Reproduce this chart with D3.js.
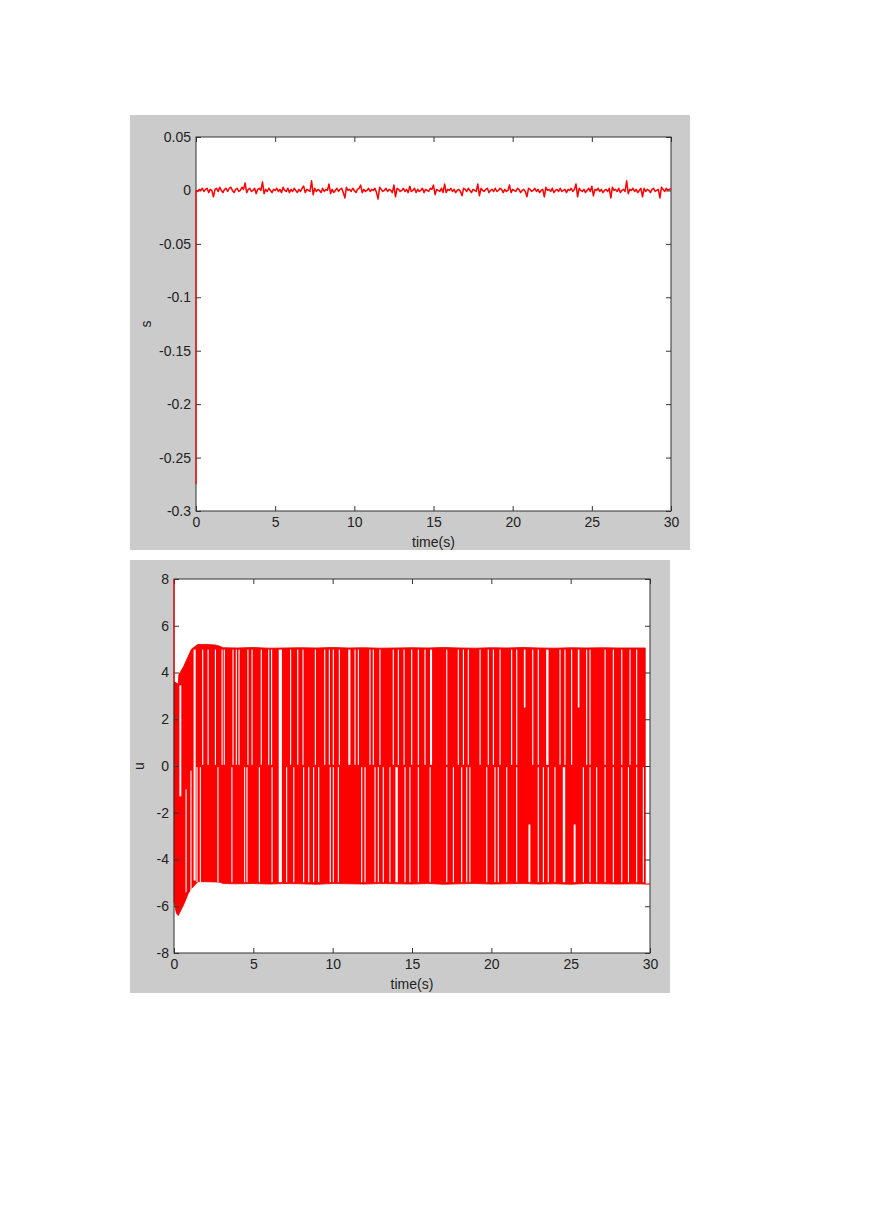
<!DOCTYPE html>
<html><head><meta charset="utf-8">
<script src="https://cdn.jsdelivr.net/npm/d3@7"></script>
<style>
html,body{margin:0;padding:0;background:#fff;}
svg{display:block;}
text{font-family:Arial,"Liberation Sans",Helvetica,sans-serif;}
</style></head>
<body>
<svg id="c" width="869" height="1228"></svg>
<script>
// ---------- DATA ----------
// s(t): initial jump at t=0, then samples every 0.1 s from t=0 to t=30, values in thousandths
const sStart = [[0, -0.275], [0, 0]];
const sStep = 0.1;
const sMilli = [
 0,-1,1,0,2,-1,1,2,-2,1,
 0,-6,1,2,-1,3,0,-2,1,2,
 -1,2,3,0,-2,1,2,-1,0,3,
 1,7,-2,1,2,-1,0,2,-3,1,
 2,0,8,-3,1,-1,2,0,-2,1,
 0,2,-1,1,-2,3,0,-1,2,-2,
 1,-1,2,0,-2,1,-1,2,4,-2,
 1,0,-1,9,-4,2,-1,1,0,-2,
 2,-1,1,0,6,-3,1,-2,0,2,
 -1,1,2,-2,-7,3,0,1,-1,2,
 0,-2,1,2,5,-2,1,-1,0,2,
 -1,1,0,2,-2,-8,3,1,-1,0,
 2,-1,1,0,-2,5,-6,2,1,-1,
 0,2,-1,1,-2,4,-1,0,2,-2,
 1,-1,0,2,-2,1,0,-1,2,1,
 5,-4,1,0,-1,2,-2,6,-2,1,
 0,2,-1,1,-2,0,1,-1,-5,2,
 1,-1,2,0,-2,1,0,-1,6,-5,
 2,0,-1,1,2,-2,0,1,-1,2,
 -1,0,2,1,-2,1,-1,0,5,-2,
 1,0,-1,2,1,-2,0,1,-1,-6,
 2,1,-1,0,2,-1,1,-2,0,1,
 -6,3,0,1,-1,2,-2,0,1,-1,
 2,-1,0,1,-2,1,0,2,-1,1,
 6,-6,2,0,-1,1,-2,0,2,-1,
 4,-5,1,0,2,-1,1,-2,0,1,
 -1,2,-7,3,0,1,-1,2,-2,0,
 1,-1,9,-3,1,0,2,-1,1,-2,
 0,2,-6,2,-1,1,0,-2,1,2,
 -1,0,1,-7,3,1,-1,2,0,1,
 2
];
const sTicks = [0.05, 0, -0.05, -0.1, -0.15, -0.2, -0.25, -0.3];
const sTickLabels = ["0.05","0","-0.05","-0.1","-0.15","-0.2","-0.25","-0.3"];

// u(t): chattering control, described by its envelope and the white gaps seen in it
const uStart = [[0, 8], [0, 3.6]];
const uEnvT   = [0, 0.15, 0.27, 0.3, 0.6, 0.9, 1.1, 1.3, 1.5, 2.0, 2.6, 2.9, 3.1, 4, 5, 6, 7, 8, 9, 10, 11, 12, 13, 14, 15, 16, 17, 18, 19, 20, 21, 22, 23, 24, 25, 26, 27, 28, 29, 29.7];
const uUpper  = [3.6, 3.55, 3.5, 3.9, 4.25, 4.7, 5.0, 5.1, 5.2, 5.2, 5.18, 5.12, 5.06, 5.05, 5.07, 5.04, 5.05, 5.06, 5.05, 5.07, 5.05, 5.06, 5.04, 5.05, 5.06, 5.05, 5.07, 5.05, 5.04, 5.06, 5.05, 5.07, 5.05, 5.04, 5.06, 5.05, 5.06, 5.05, 5.05, 5.05];
const uLower  = [-5.8, -6.3, -6.4, -6.35, -5.95, -5.45, -5.25, -5.1, -4.95, -4.95, -4.96, -4.97, -5.03, -5.04, -5.03, -5.05, -5.03, -5.04, -5.06, -5.03, -5.04, -5.05, -5.03, -5.04, -5.05, -5.03, -5.06, -5.04, -5.03, -5.05, -5.04, -5.03, -5.05, -5.04, -5.06, -5.03, -5.04, -5.05, -5.04, -5.05];
const uTail = [[29.7, -5.05], [30, -5.05]];
// times of narrow white gaps in the upper half (0..+5) and lower half (-5..0)
const gapsUp = [1.81, 2.15, 2.61, 3.03, 3.17, 3.72, 3.93, 4.10, 4.66, 4.92, 5.50, 5.97, 6.15, 7.35, 7.80, 8.13, 8.91, 9.50, 9.79, 10.04, 10.42, 11.41, 11.62, 12.35, 12.56, 12.98, 13.82, 14.14, 14.50, 14.98, 15.40, 15.82, 17.19, 17.92, 18.24, 18.55, 19.29, 19.81, 20.13, 20.55, 21.28, 21.60, 22.61, 22.96, 24.33, 24.64, 25.06, 26.01, 26.22, 27.17, 27.69, 28.22, 28.74, 29.16];
const gapsLow = [1.45, 1.66, 2.77, 3.65, 4.45, 4.60, 5.38, 6.18, 7.10, 7.55, 8.17, 8.49, 8.80, 9.12, 9.85, 10.04, 10.36, 11.83, 12.04, 12.67, 12.88, 13.19, 13.61, 14.56, 14.87, 15.40, 16.14, 17.19, 17.61, 18.13, 18.45, 18.65, 19.71, 20.23, 20.44, 20.97, 21.60, 22.96, 23.28, 23.59, 24.01, 25.80, 26.22, 26.64, 27.17, 27.69, 28.22, 28.64, 29.16, 29.58];
// wider / partial gaps: [time, width(s), uLow, uHigh]
const gapsWide = [
 [0.40, 0.12, -1.3, 3.45], [0.76, 0.07, -5.4, -1.0], [1.07, 0.07, -5.5, -0.2],
 [1.30, 0.13, -4.9, 4.98], [6.70, 0.2, -4.97, 4.98], [11.05, 0.13, 0.05, 4.98],
 [14.03, 0.15, -4.97, -0.05], [16.20, 0.13, 0.05, 4.98], [22.10, 0.1, 2.5, 4.98],
 [22.40, 0.12, -4.97, -2.5], [23.53, 0.15, 0.05, 4.98], [24.58, 0.15, -4.97, -0.05],
 [25.50, 0.1, 2.5, 4.98], [25.25, 0.12, -4.97, -2.5]
];
const gapWidth = 0.07;
const uTicks = [8, 6, 4, 2, 0, -2, -4, -6, -8];
const uTickLabels = ["8","6","4","2","0","-2","-4","-6","-8"];
const tTicks = [0, 5, 10, 15, 20, 25, 30];
const tTickLabels = ["0","5","10","15","20","25","30"];

// ---------- DRAW ----------
const svg = d3.select("#c");
const RED = "#ff0000", AX = "#333";

function panel(bg, box, xDom, yDom, yTicks, yLabels, yName, yNameX) {
  svg.append("rect").attr("x", bg[0]).attr("y", bg[1]).attr("width", bg[2]-bg[0]).attr("height", bg[3]-bg[1]).attr("fill", "#cbcbcb");
  svg.append("rect").attr("x", box[0]).attr("y", box[1]).attr("width", box[2]-box[0]).attr("height", box[3]-box[1]).attr("fill", "#fff");
  const x = d3.scaleLinear().domain(xDom).range([box[0], box[2]]);
  const y = d3.scaleLinear().domain(yDom).range([box[3], box[1]]);
  return {x, y, box, yTicks, yLabels, yName, yNameX};
}
function axes(p) {
  const {x, y, box} = p;
  const g = svg.append("g");
  const fmtX = d => tTickLabels[tTicks.indexOf(d)];
  const fmtY = d => p.yLabels[p.yTicks.indexOf(d)];
  g.append("g").attr("transform", `translate(0,${box[3]})`)
    .call(d3.axisBottom(x).tickValues(tTicks).tickFormat(fmtX).tickSizeInner(-5).tickSizeOuter(0).tickPadding(6));
  g.append("g").attr("transform", `translate(0,${box[1]})`)
    .call(d3.axisTop(x).tickValues(tTicks).tickFormat("").tickSizeInner(-5).tickSizeOuter(0));
  g.append("g").attr("transform", `translate(${box[0]},0)`)
    .call(d3.axisLeft(y).tickValues(p.yTicks).tickFormat(fmtY).tickSizeInner(-5).tickSizeOuter(0).tickPadding(5));
  g.append("g").attr("transform", `translate(${box[2]},0)`)
    .call(d3.axisRight(y).tickValues(p.yTicks).tickFormat("").tickSizeInner(-5).tickSizeOuter(0));
  g.selectAll(".domain").remove();
  g.selectAll("line").attr("stroke", AX);
  g.selectAll("text").attr("font-size", 14).attr("fill", "#222");
  g.append("rect").attr("x", box[0]).attr("y", box[1]).attr("width", box[2]-box[0]).attr("height", box[3]-box[1])
    .attr("fill", "none").attr("stroke", AX).attr("stroke-width", 1);
  svg.append("text").attr("x", (box[0]+box[2])/2).attr("y", box[3]+36).attr("text-anchor", "middle")
    .attr("font-size", 14).attr("fill", "#222").text("time(s)");
  svg.append("text").attr("transform", `translate(${p.yNameX},${(box[1]+box[3])/2}) rotate(-90)`)
    .attr("text-anchor", "middle").attr("font-size", 14).attr("fill", "#222").text(p.yName);
}

// Panel 1: s
const p1 = panel([130,115,690,550], [196,137,671,511], [0,30], [-0.3,0.05], sTicks, sTickLabels, "s", 151);
axes(p1);
const sLine = d3.line().x(d => p1.x(d[0])).y(d => p1.y(d[1]));
svg.append("path").datum(sStart).attr("d", sLine)
  .attr("fill", "none").attr("stroke", RED).attr("stroke-width", 1.2);
const sData = sMilli.map((v, i) => [i * sStep, v / 1000]);
svg.append("path").datum(sData).attr("d", sLine)
  .attr("fill", "none").attr("stroke", RED).attr("stroke-width", 1.5).attr("stroke-linejoin", "round");

// Panel 2: u
const p2 = panel([130,560,670,993], [174,579,650,953], [0,30], [-8,8], uTicks, uTickLabels, "u", 144);
const env = uEnvT.map((t, i) => ({t, hi: uUpper[i], lo: uLower[i]}));
const gU = svg.append("g");
gU.append("path").datum(env)
  .attr("d", d3.area().x(d => p2.x(d.t)).y0(d => p2.y(d.lo)).y1(d => p2.y(d.hi)))
  .attr("fill", RED).attr("stroke", "#e00000").attr("stroke-width", 0.8);
const gapRects = []
  .concat(gapsUp.map(t => [t, gapWidth, 0.05, 4.98]))
  .concat(gapsLow.map(t => [t, gapWidth, -4.97, -0.05]))
  .concat(gapsWide);
gU.selectAll("rect.gap").data(gapRects).join("rect").attr("class", "gap")
  .attr("x", d => p2.x(d[0] - d[1] / 2))
  .attr("width", d => p2.x(d[0] + d[1] / 2) - p2.x(d[0] - d[1] / 2))
  .attr("y", d => p2.y(d[3]))
  .attr("height", d => p2.y(d[2]) - p2.y(d[3]))
  .attr("fill", "#fff");
axes(p2);
const uLine = d3.line().x(d => p2.x(d[0])).y(d => p2.y(d[1]));
svg.append("path").datum(uStart).attr("d", uLine)
  .attr("fill", "none").attr("stroke", RED).attr("stroke-width", 1.2);
svg.append("path").datum(uTail).attr("d", uLine)
  .attr("fill", "none").attr("stroke", RED).attr("stroke-width", 1.1);
</script>
</body></html>
